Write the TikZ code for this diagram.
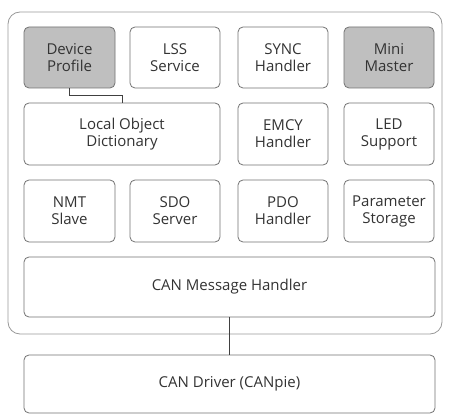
\documentclass[tikz,border=0pt]{standalone}
\usepackage{fontspec}
\setmainfont{Open Sans}
\begin{document}
\begin{tikzpicture}[x=1pt,y=-1pt,
  box/.style={draw=black!55, line width=0.8pt, rounded corners=5pt, align=center,
    font=\fontsize{15}{17}\selectfont, text=black!80, inner sep=0pt},
  shadedbox/.style={box, fill=black!25},
  link/.style={draw=black!75, line width=0.8pt},
  container/.style={draw=black!40, line width=0.8pt, rounded corners=12pt}]
\useasboundingbox (0,0) rectangle (450,414);
\fill[white] (0,0) rectangle (450,414);
\draw[container] (8,12) rectangle (442,334);
% row 1
\node[shadedbox, minimum width=91pt, minimum height=61pt] (dp) at (69.5,57.5) {Device\\Profile};
\node[box, minimum width=90pt, minimum height=61pt] (lss) at (175,57.5) {LSS\\Service};
\node[box, minimum width=90pt, minimum height=61pt] (sync) at (283,57.5) {SYNC\\Handler};
\node[shadedbox, minimum width=90pt, minimum height=61pt] (mini) at (389,57.5) {Mini\\Master};
% row 2
\node[box, minimum width=196pt, minimum height=62pt] (lod) at (122,134) {Local Object\\Dictionary};
\node[box, minimum width=90pt, minimum height=62pt] (emcy) at (283,134) {EMCY\\Handler};
\node[box, minimum width=90pt, minimum height=62pt] (led) at (389,134) {LED\\Support};
% row 3
\node[box, minimum width=91pt, minimum height=62pt] (nmt) at (69.5,211) {NMT\\Slave};
\node[box, minimum width=90pt, minimum height=62pt] (sdo) at (175,211) {SDO\\Server};
\node[box, minimum width=90pt, minimum height=62pt] (pdo) at (283,211) {PDO\\Handler};
\node[box, minimum width=90pt, minimum height=62pt] (par) at (389,211) {Parameter\\Storage};
% bottom
\node[box, minimum width=411pt, minimum height=60pt] (mh) at (229.5,287) {CAN Message Handler};
\node[box, minimum width=411pt, minimum height=58pt] (drv) at (229.5,384) {CAN Driver (CANpie)};
% connectors
\draw[link] (dp.south) -- ++(0,7) -| (lod.north);
\draw[link, line width=1.5pt] (mh.south) -- (drv.north);
\end{tikzpicture}
\end{document}
